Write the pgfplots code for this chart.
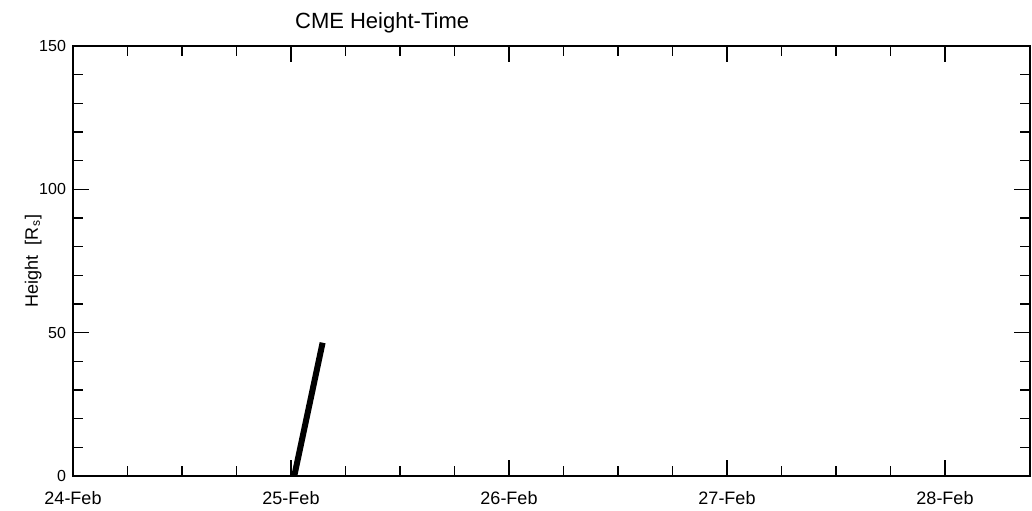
\documentclass[border=0pt]{standalone}
\usepackage{fontspec}
\setmainfont{Liberation Sans}
\usepackage{pgfplots}
\pgfplotsset{compat=1.18}
\usetikzlibrary{calc}

\begin{document}
\begin{tikzpicture}
  \begin{axis}[scale only axis, width=478.5pt, height=215pt,
    xmin=0, xmax=4.39, ymin=0, ymax=150,
    axis line style={line width=1pt},
    xtick={0,1,2,3,4},
    xticklabels={24-Feb,25-Feb,26-Feb,27-Feb,28-Feb},
    minor x tick num=3,
    ytick={0,50,100,150}, minor y tick num=4,
    tick align=inside, tick pos=both,
    major tick length=8pt, minor tick length=5pt,
    every tick/.style={black,line width=0.7pt},
    /pgf/number format/assume math mode=true,
    x tick label style={font=\fontsize{9}{10}\selectfont, yshift=-4pt},
    y tick label style={font=\fontsize{8}{9}\selectfont},
    ylabel={Height\hspace{5pt}[R\textsubscript{s}]},
    ylabel style={font=\fontsize{9}{10}\selectfont, yshift=-8pt},
    clip=false]
    \addplot[black, line width=3pt] coordinates {(1.015,0) (1.145,46.5)};
    \node[font=\fontsize{11}{12}\selectfont] at (rel axis cs:0.323,1.055) {CME Height-Time};
  \end{axis}
  \pgfresetboundingbox
  \useasboundingbox ($(current axis.south west)+(-36.5pt,-17pt)$) rectangle ++(516pt,255pt);
\end{tikzpicture}
\end{document}
